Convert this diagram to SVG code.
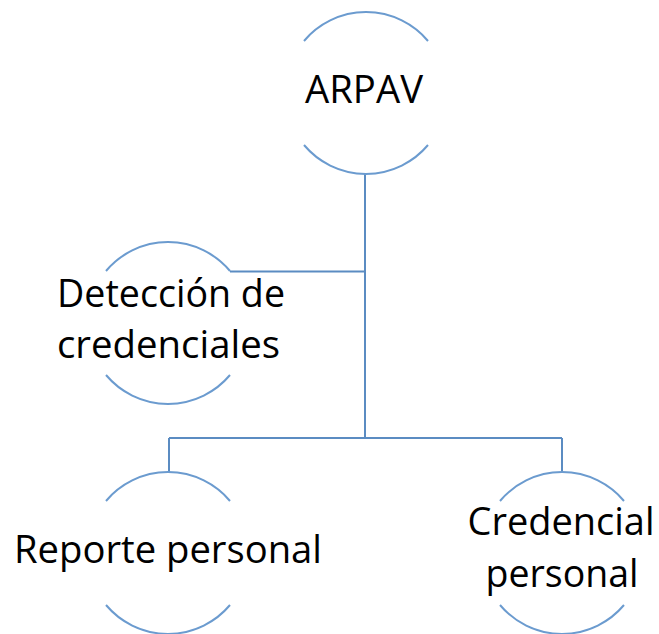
<svg xmlns="http://www.w3.org/2000/svg" width="659" height="634" viewBox="0 0 659 634">
<style>
.arc{fill:none;stroke:#6b9bcf;stroke-width:2}
.conn{fill:none;stroke:#5b8cc2;stroke-width:2}
.lbl{font-family:"Open Sans","Noto Sans","Liberation Sans",sans-serif;font-size:38px;fill:#000;text-anchor:middle}
</style>
<rect width="659" height="634" fill="#fff"/>
<g id="connectors">
<path class="conn" d="M365,174 V438"/>
<path class="conn" d="M230,271.5 H365"/>
<path class="conn" d="M169,438 H562"/>
<path class="conn" d="M169,438 V472"/>
<path class="conn" d="M562,438 V472"/>
</g>
<g id="node-arpav">
<path class="arc" d="M304,41 A81,81 0 0 1 428,41"/>
<path class="arc" d="M304,145 A81,81 0 0 0 428,145"/>
<text class="lbl" x="364" y="103" textLength="118" lengthAdjust="spacingAndGlyphs">ARPAV</text>
</g>
<g id="node-deteccion">
<path class="arc" d="M106,271 A81,81 0 0 1 230,271"/>
<path class="arc" d="M106,375 A81,81 0 0 0 230,375"/>
<text class="lbl" x="171" y="307" textLength="228" lengthAdjust="spacingAndGlyphs">Detección de</text>
<text class="lbl" x="168.5" y="358" textLength="223" lengthAdjust="spacingAndGlyphs">credenciales</text>
</g>
<g id="node-reporte">
<path class="arc" d="M106,501 A81,81 0 0 1 230,501"/>
<path class="arc" d="M106,605 A81,81 0 0 0 230,605"/>
<text class="lbl" x="168" y="563" textLength="308" lengthAdjust="spacingAndGlyphs">Reporte personal</text>
</g>
<g id="node-credencial">
<path class="arc" d="M500,501 A81,81 0 0 1 624,501"/>
<path class="arc" d="M500,605 A81,81 0 0 0 624,605"/>
<text class="lbl" x="561" y="535" textLength="187" lengthAdjust="spacingAndGlyphs">Credencial</text>
<text class="lbl" x="562" y="587" textLength="153" lengthAdjust="spacingAndGlyphs">personal</text>
</g>
</svg>
